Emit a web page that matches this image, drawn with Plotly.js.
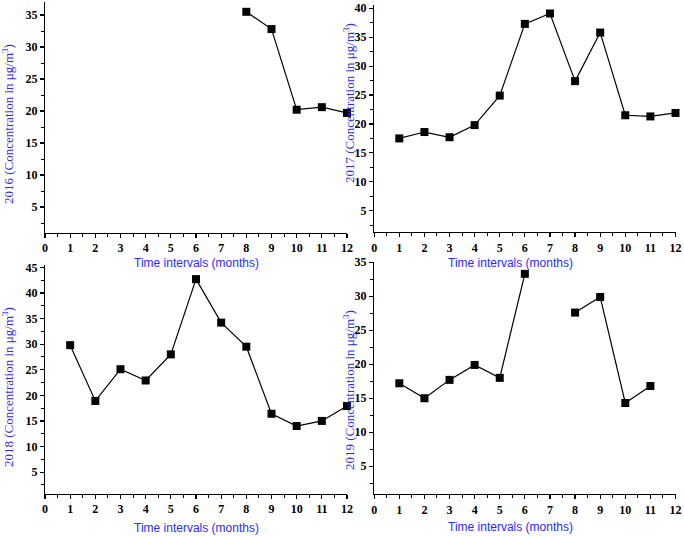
<!DOCTYPE html>
<html>
<head>
<meta charset="utf-8">
<script src="https://cdn.plot.ly/plotly-3.0.1.min.js"></script>
<style>html,body{margin:0;padding:0;background:#fff;}#chart{width:684px;height:536px;}</style>
</head>
<body>
<div id="chart"></div>
<script>
const months = [1,2,3,4,5,6,7,8,9,10,11,12];
const y2016 = [null,null,null,null,null,null,null,35.5,32.8,20.2,20.6,19.7];
const y2017 = [17.5,18.6,17.7,19.8,24.9,37.3,39.1,27.4,35.8,21.5,21.3,21.9];
const y2018 = [29.8,18.9,25.1,22.9,28.0,42.7,34.2,29.5,16.4,14.0,15.0,17.9];
const y2019 = [17.2,15.0,17.7,19.9,18.0,33.3,null,27.6,29.9,14.3,16.8,null];
const yearLabels = ['2016','2017','2018','2019'];
const xTickVals = [0,1,2,3,4,5,6,7,8,9,10,11,12];
const xTitle = 'Time intervals (months)';

const W = 684, H = 536;
const blue = 'rgb(45,45,235)';
const px = (a,b) => [a/W, b/W];
const py = (top,bot) => [1-bot/H, 1-top/H];

const series = [y2016, y2017, y2018, y2019];
const traces = series.map((ys,i) => ({
  x: months, y: ys, type: 'scatter', mode: 'lines+markers',
  xaxis: i===0 ? 'x' : 'x'+(i+1), yaxis: i===0 ? 'y' : 'y'+(i+1),
  line: {color: '#000', width: 1.2},
  marker: {symbol: 'square', size: 8, color: '#000'},
  connectgaps: false, showlegend: false, cliponaxis: false
}));

const xDom = [px(45,347), px(374.2,675.5), px(45,347), px(374.2,675.5)];
const yDom = [py(2.2,232.6), py(4.8,232.1), py(265.3,493.6), py(261.6,493.9)];
const yRange = [[1,37],[1.3,40.6],[0.8,45.4],[0.93,35.1]];
const yMax = [35,40,45,35];

const tickFont = {family: 'Liberation Serif', size: 12, color: '#000'};
const layout = {
  width: W, height: H,
  margin: {l:0, r:0, t:0, b:0},
  paper_bgcolor: '#fff', plot_bgcolor: '#fff',
  showlegend: false,
  annotations: []
};
for (let i=0;i<4;i++){
  const xn = i===0 ? 'xaxis' : 'xaxis'+(i+1);
  const yn = i===0 ? 'yaxis' : 'yaxis'+(i+1);
  const yid = i===0 ? 'y' : 'y'+(i+1);
  const xid = i===0 ? 'x' : 'x'+(i+1);
  layout[xn] = {
    domain: xDom[i], anchor: yid, range: [0,12],
    tickmode: 'array', tickvals: xTickVals, ticktext: xTickVals.map(v => '<b>'+v+'</b>'),
    showgrid: false, zeroline: false, showline: true, linecolor: '#000', linewidth: 1.2,
    ticks: 'outside', ticklen: 4, tickwidth: 1.2, tickcolor: '#000',
    minor: {tick0: 0, dtick: 0.5, ticks: 'outside', ticklen: 3, tickwidth: 1, tickcolor: '#000', showgrid: false},
    tickfont: tickFont, fixedrange: true
  };
  const tv = [];
  for (let v=5; v<=yMax[i]; v+=5) tv.push(v);
  layout[yn] = {
    domain: yDom[i], anchor: xid, range: yRange[i],
    tickmode: 'array', tickvals: tv, ticktext: tv.map(v => '<b>'+v+'</b>'),
    showgrid: false, zeroline: false, showline: true, linecolor: '#000', linewidth: 1.2,
    ticks: 'outside', ticklen: 4, tickwidth: 1.2, tickcolor: '#000',
    minor: {tick0: 0, dtick: 2.5, ticks: 'outside', ticklen: 3, tickwidth: 1, tickcolor: '#000', showgrid: false},
    tickfont: tickFont, fixedrange: true
  };
}
const xTitlePos = [[196,263],[510,263],[196,528],[510,527]];
const yTitlePos = [[8,124],[349,103],[8,387],[349,390]];
for (let i=0;i<4;i++){
  layout.annotations.push({
    xref:'paper', yref:'paper', x: xTitlePos[i][0]/W, y: 1-xTitlePos[i][1]/H,
    xanchor:'center', yanchor:'middle', showarrow:false,
    text: xTitle, font: {family:'Liberation Sans', size: 12, color: blue}
  });
  layout.annotations.push({
    xref:'paper', yref:'paper', x: yTitlePos[i][0]/W, y: 1-yTitlePos[i][1]/H,
    xanchor:'center', yanchor:'middle', showarrow:false, textangle: -90,
    text: yearLabels[i] + ' (Concentration in μg/m<sup>3</sup>)',
    font: {family:'Liberation Serif', size: 13, color: blue}
  });
}
Plotly.newPlot('chart', traces, layout, {staticPlot: true, displayModeBar: false});
</script>
</body>
</html>
